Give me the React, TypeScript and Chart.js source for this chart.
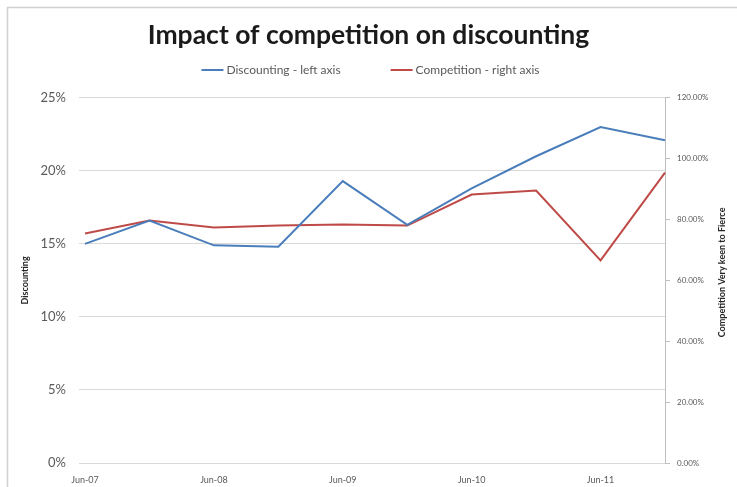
import React, { useEffect, useRef } from "react";
import { Chart, registerables } from "chart.js";

Chart.register(...registerables);

const categories = ["Jun-07", "Dec-07", "Jun-08", "Dec-08", "Jun-09", "Dec-09", "Jun-10", "Dec-10", "Jun-11", "Dec-11"];
const discounting = [15.0, 16.6, 14.9, 14.8, 19.3, 16.3, 18.8, 21.0, 23.0, 22.1];
const competition = [75.4, 79.7, 77.4, 78.0, 78.4, 78.0, 88.2, 89.5, 66.6, 95.4];
const leftTicks = [0, 5, 10, 15, 20, 25];
const rightTicks = [0, 20, 40, 60, 80, 100, 120];
const seriesNames = ["Discounting - left axis", "Competition - right axis"];
const seriesColors = ["#4A7EBB", "#BE4B48"];

const FONT = "Lato, 'Open Sans', sans-serif";
const GREY = "#595959";

const framePlugin = {
  id: "frame",
  afterDraw(chart: any) {
    const ctx = chart.ctx;
    const area = chart.chartArea;
    ctx.save();
    ctx.strokeStyle = "#D0D0D0";
    ctx.lineWidth = 1.5;
    ctx.strokeRect(7.5, 7.5, 760, 520);

    // legend
    ctx.font = `12px ${FONT}`;
    ctx.textBaseline = "middle";
    ctx.textAlign = "left";
    const swatch = 22;
    const gapText = 3;
    const gapItems = 50;
    const widths = seriesNames.map((n) => swatch + gapText + ctx.measureText(n).width);
    const total = widths[0] + widths[1] + gapItems;
    let x = chart.width / 2 - total / 2 + 2;
    const y = 70;
    seriesNames.forEach((n, i) => {
      ctx.strokeStyle = seriesColors[i];
      ctx.lineWidth = 2;
      ctx.beginPath();
      ctx.moveTo(x, y);
      ctx.lineTo(x + swatch, y);
      ctx.stroke();
      ctx.fillStyle = GREY;
      ctx.fillText(n, x + swatch + gapText, y);
      x += widths[i] + gapItems;
    });

    // right axis title (reads bottom to top)
    ctx.translate(722, (area.top + area.bottom) / 2 - 8);
    ctx.rotate(-Math.PI / 2);
    ctx.font = `bold 9px ${FONT}`;
    ctx.fillStyle = "#262626";
    ctx.textAlign = "center";
    ctx.textBaseline = "middle";
    ctx.fillText("Competition Very keen to Fierce", 0, 0);
    ctx.restore();
  },
};

export default function App() {
  const ref = useRef<HTMLCanvasElement | null>(null);
  useEffect(() => {
    if (!ref.current) return;
    const chart = new Chart(ref.current, {
      type: "line",
      data: {
        labels: categories,
        datasets: [
          {
            label: seriesNames[0],
            data: discounting,
            borderColor: seriesColors[0],
            backgroundColor: seriesColors[0],
            borderWidth: 2,
            pointRadius: 0,
            yAxisID: "y",
            tension: 0,
          },
          {
            label: seriesNames[1],
            data: competition,
            borderColor: seriesColors[1],
            backgroundColor: seriesColors[1],
            borderWidth: 2,
            pointRadius: 0,
            yAxisID: "y1",
            tension: 0,
          },
        ],
      },
      options: {
        responsive: false,
        animation: false,
        layout: { padding: { top: 0, left: 0, right: 0, bottom: 0 } },
        plugins: {
          tooltip: { enabled: false },
          legend: { display: false },
          title: {
            display: true,
            text: "Impact of competition on discounting",
            color: "#1a1a1a",
            font: { family: FONT, size: 26.5, weight: "bold" },
            padding: { top: 20, bottom: 46 },
          },
        },
        scales: {
          x: {
            type: "category",
            grid: { display: false, drawTicks: false },
            border: { display: false },
            ticks: {
              autoSkip: false,
              maxRotation: 0,
              padding: 12,
              color: GREY,
              font: { family: FONT, size: 9 },
              callback: (_v: any, i: number) => (i % 2 === 0 ? categories[i] : ""),
            },
            afterFit: (s: any) => {
              s.height = 24;
            },
          },
          y: {
            position: "left",
            min: 0,
            max: 25,
            afterBuildTicks: (s: any) => {
              s.ticks = leftTicks.map((v) => ({ value: v }));
            },
            grid: { color: "#D9D9D9", tickLength: 6, lineWidth: 1 },
            border: { display: false },
            ticks: {
              padding: 13,
              color: GREY,
              font: { family: FONT, size: 13 },
              callback: (v: any) => `${v}%`,
            },
            title: {
              display: true,
              text: "Discounting",
              color: "#262626",
              font: { family: FONT, size: 9, weight: "bold" },
              padding: { top: 20, bottom: 0 },
            },
            afterFit: (s: any) => {
              s.width = 85;
            },
          },
          y1: {
            position: "right",
            min: 0,
            max: 120,
            afterBuildTicks: (s: any) => {
              s.ticks = rightTicks.map((v) => ({ value: v }));
            },
            grid: { drawOnChartArea: false, color: "#BFBFBF", tickLength: 5 },
            border: { display: true, color: "#BFBFBF", width: 1 },
            ticks: {
              padding: 7,
              color: GREY,
              font: { family: FONT, size: 8 },
              callback: (v: any) => `${Number(v).toFixed(2)}%`,
            },
            afterFit: (s: any) => {
              s.width = 72;
            },
          },
        },
      },
      plugins: [framePlugin],
    } as any);
    return () => chart.destroy();
  }, []);
  return (
    <div style={{ position: "absolute", left: 0, top: 0, width: 737, height: 487, background: "#fff" }}>
      <canvas ref={ref} width={737} height={487} style={{ display: "block" }} />
    </div>
  );
}
